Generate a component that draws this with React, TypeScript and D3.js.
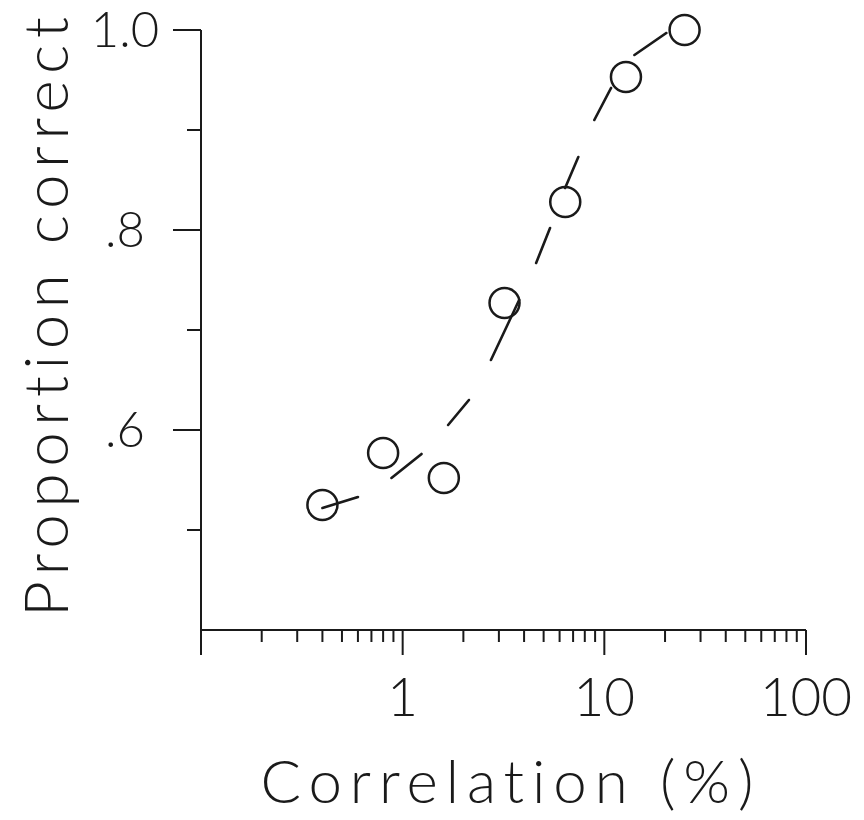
import React from "react";
import * as d3 from "d3";

// Observed data points (correlation %, proportion correct)
const correlation = [0.4, 0.8, 1.6, 3.2, 6.4, 12.8, 25];
const proportion = [0.525, 0.577, 0.552, 0.727, 0.828, 0.953, 1.0];

// Fitted curve (dash ends, in order)
const curveX = [0.4, 0.6, 0.88, 1.24, 1.68, 2.13, 2.74, 3.78, 4.59, 5.38, 6.39, 7.43, 8.92, 10.8, 14.1, 20.3, 25];
const curveY = [0.522, 0.533, 0.552, 0.576, 0.605, 0.63, 0.67, 0.73, 0.767, 0.802, 0.842, 0.873, 0.91, 0.942, 0.975, 0.997, 1.0];

const xMajorTicks = [0.1, 1, 10, 100];
const xTickLabels = ["", "1", "10", "100"];
const yMajorTicks = [1.0, 0.8, 0.6];
const yTickLabels = ["1.0", ".8", ".6"];
const yMinorTicks = [0.9, 0.7, 0.5];

export default function App() {
  const W = 864, H = 820;
  const x = d3.scaleLog().domain([0.1, 100]).range([201, 806]);
  const y = d3.scaleLinear().domain([0.4, 1.0]).range([630, 30]);
  const font = "Lato, 'Liberation Sans', Arial, sans-serif";
  const fw = 300;
  const ink = "#1a1a1a";
  const textStyle = { fontVariantLigatures: "none" as const, fontFeatureSettings: "'liga' 0, 'clig' 0" };

  const xMinor: number[] = [];
  [0.1, 1, 10].forEach((d) => {
    for (let k = 2; k <= 9; k++) xMinor.push(d * k);
  });

  const pts: [number, number][] = curveX.map((c, i) => [x(c), y(curveY[i])]);
  const line = d3.line().curve(d3.curveLinear);
  // dash pattern: alternate segments between consecutive curve points are drawn
  const dash = pts
    .slice(1)
    .map((p, i) => Math.hypot(p[0] - pts[i][0], p[1] - pts[i][1]).toFixed(2))
    .join(" ");

  return (
    <svg width={W} height={H} style={{ position: "absolute", left: 0, top: 0, background: "#fff" }}>
      {/* axes */}
      <line x1={x(0.1)} x2={x(0.1)} y1={y(1.0)} y2={y(0.4) + 25} stroke={ink} strokeWidth={2} />
      <line x1={x(0.1)} x2={x(100)} y1={y(0.4)} y2={y(0.4)} stroke={ink} strokeWidth={2} />
      {xMajorTicks.map((t, i) => (
        <g key={"xm" + i}>
          <line x1={x(t)} x2={x(t)} y1={y(0.4)} y2={y(0.4) + 25} stroke={ink} strokeWidth={2} />
          {xTickLabels[i] && (
            <text x={x(t)} y={716} textAnchor="middle" fontFamily={font} fontWeight={fw} fontSize={53} fill={ink} style={textStyle}>
              {xTickLabels[i]}
            </text>
          )}
        </g>
      ))}
      {xMinor.map((t, i) => (
        <line key={"xn" + i} x1={x(t)} x2={x(t)} y1={y(0.4)} y2={y(0.4) + 12} stroke={ink} strokeWidth={2} />
      ))}
      {yMajorTicks.map((t, i) => (
        <g key={"ym" + i}>
          <line x1={x(0.1) - 28} x2={x(0.1)} y1={y(t)} y2={y(t)} stroke={ink} strokeWidth={2} />
          <text x={125} y={y(t) + 17} textAnchor="middle" fontFamily={font} fontWeight={fw} fontSize={49} fill={ink} style={textStyle}>
            {yTickLabels[i]}
          </text>
        </g>
      ))}
      {yMinorTicks.map((t, i) => (
        <line key={"yn" + i} x1={x(0.1) - 14} x2={x(0.1)} y1={y(t)} y2={y(t)} stroke={ink} strokeWidth={2} />
      ))}

      {/* fitted curve */}
      <path d={line(pts) || ""} fill="none" stroke={ink} strokeWidth={2.6} strokeDasharray={dash} strokeLinecap="round" />

      {/* data points */}
      {correlation.map((c, i) => (
        <circle key={"p" + i} cx={x(c)} cy={y(proportion[i])} r={15} fill="none" stroke={ink} strokeWidth={2.5} />
      ))}

      {/* axis titles */}
      <text
        transform={`translate(68, 317) rotate(-90)`}
        textAnchor="middle"
        fontFamily={font}
        fontWeight={fw}
        fontSize={62}
        fill={ink}
        textLength={600}
        lengthAdjust="spacing"
        style={textStyle}
      >
        Proportion correct
      </text>
      <text
        x={507}
        y={803}
        textAnchor="middle"
        fontFamily={font}
        fontWeight={fw}
        fontSize={60}
        fill={ink}
        textLength={493}
        lengthAdjust="spacing"
        style={textStyle}
      >
        Correlation (%)
      </text>
    </svg>
  );
}
